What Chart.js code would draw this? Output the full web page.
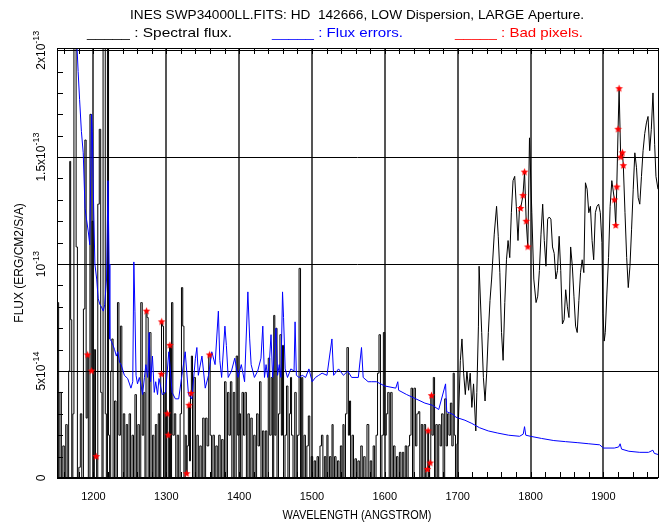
<!DOCTYPE html>
<html>
<head>
<meta charset="utf-8">
<script src="https://cdn.jsdelivr.net/npm/chart.js@4.4.1/dist/chart.umd.min.js"></script>
<style>
  html, body { margin: 0; padding: 0; background: #fff; }
</style>
</head>
<body>
<canvas id="spec" width="663" height="524"></canvas>
<script>
// Flux values are in units of 1e-14 erg/cm2/s/A
// (negative values are noise dips that fall below the plot floor)
const fluxWave = [
  1150, 1151.5, 1153, 1155, 1157, 1159, 1161, 1163, 1165, 1167, 1168, 1169.5, 1171, 1172.5, 1174, 1175.5, 1177, 1179, 1181, 1183,
  1185, 1187.5, 1189, 1191, 1192, 1194, 1196.5, 1197.4, 1199, 1200.5, 1202, 1203.8, 1205, 1207, 1209, 1211, 1212.5, 1214, 1215.5, 1217,
  1218.5, 1220, 1221.5, 1223, 1224.5, 1226, 1228, 1230, 1232, 1234, 1236, 1238, 1240, 1242, 1244, 1246, 1248, 1250, 1252, 1254,
  1256, 1258, 1260, 1262, 1264, 1266, 1268, 1270, 1271.5, 1272.9, 1274.3, 1276, 1278, 1280, 1282, 1284, 1286, 1288, 1290, 1291.7,
  1293.2, 1293.7, 1295.5, 1297, 1299, 1300.2, 1301.4, 1302.7, 1304, 1305, 1306.5, 1308, 1310, 1312, 1314, 1316, 1318, 1320, 1321.7, 1323.5,
  1325, 1327, 1328, 1329.5, 1331.2, 1332.5, 1333.9, 1335, 1337, 1339, 1341, 1343, 1345, 1347, 1349, 1351, 1353, 1355, 1357, 1359.5,
  1361, 1363, 1365, 1367, 1369, 1371, 1373, 1375, 1377, 1379, 1381, 1383, 1385, 1387, 1389, 1391, 1393, 1395, 1397, 1399,
  1401, 1403, 1405, 1407, 1409, 1411, 1413, 1415, 1417, 1419, 1421, 1423, 1425, 1427, 1429, 1431, 1433, 1435, 1437, 1439,
  1441, 1443, 1445, 1447, 1448, 1450, 1451, 1453, 1455, 1457, 1459, 1460, 1462, 1464, 1466, 1468, 1470, 1471, 1473, 1475,
  1477.7, 1479, 1481, 1483.6, 1485, 1486.7, 1488, 1490, 1492, 1494, 1496, 1498, 1500, 1502, 1504, 1506, 1508, 1510, 1512, 1514,
  1516, 1518, 1520, 1521, 1523, 1525, 1527, 1528, 1530, 1532, 1534, 1536, 1538, 1540, 1542, 1543, 1545, 1547, 1549, 1551,
  1552, 1554, 1556, 1558, 1560, 1562, 1564, 1566, 1568, 1570, 1572, 1574, 1577, 1579, 1581, 1583, 1585, 1587, 1589, 1591,
  1593, 1595, 1597, 1599, 1601, 1603, 1605, 1607, 1609, 1611, 1613, 1615, 1617, 1619, 1621, 1623, 1625, 1627, 1629, 1631,
  1633, 1635, 1637, 1639, 1641, 1643, 1645, 1647, 1649, 1651, 1653, 1655, 1657, 1658.5, 1659.4, 1660.8, 1662.2, 1664, 1665.5, 1667.6,
  1669, 1671, 1673, 1675, 1677, 1679, 1681, 1683.4, 1685, 1687, 1689, 1691, 1693, 1694.7, 1696, 1698, 1700,
  1703.7, 1705.9, 1708.2, 1710.5, 1712.7, 1715, 1717.2, 1719.5, 1721.8, 1724.9, 1726.3, 1728.5, 1729.4, 1733, 1735.3, 1737.6, 1739.8, 1742.1, 1744.4, 1746.6,
  1750.2, 1753.4, 1755.7, 1757.9, 1760.2, 1762.4, 1764.7, 1767, 1769.2, 1771.5, 1773.7, 1776, 1778.3, 1780.5, 1782.8, 1785, 1786.4, 1789.6, 1791.8, 1794.1,
  1796.3, 1798.6, 1801.8, 1804.5, 1807.6, 1809.9, 1812.2, 1814.4, 1816.7, 1818.9, 1821.2, 1823.5, 1825.7, 1828, 1830.2, 1832.5, 1834.8, 1837, 1839.3, 1841.5,
  1843.8, 1846.1, 1848.3, 1850.6, 1852.8, 1855.1, 1857.4, 1859.6, 1861.9, 1864.1, 1866.4, 1868.7, 1870.9, 1873.2, 1875.4, 1877.7, 1880, 1882.2, 1884.5, 1886.7,
  1889, 1891.3, 1893.5, 1895.8, 1898, 1899.4, 1901.2, 1902.6, 1904.8, 1907.1, 1909.3, 1911.6, 1915.2, 1917, 1918.4, 1920.2, 1921.6, 1923.8, 1926.1, 1927.4,
  1929.7, 1932, 1934.2, 1936.5, 1938.7, 1941, 1943.2, 1945.5, 1947.8, 1950, 1952.3, 1954.5, 1956.8, 1959.1, 1961.3, 1963.6, 1965.8, 1968.1, 1970.4, 1972.2, 1975
];
const fluxVal = [
  -1, 8.2, -1, 4, -1, 1.5, -1, 2.5, -1, 5, 14.8, 7.4, -1, 3, 22, 22, 10.8, -1, 0.5, 3,
  -1, 7.9, 15.8, 2.8, 5.75, -1, 17, 5.0, 12, -1, 6, 1.0, -1, 12.8, 16.3, 4, -1, 22, 22, 3,
  -1, 22, 2, -1, 5, 6.5, -1, 3.6, -1, 8.2, 2, 7.1, -1, 3, -1, 2.5, -1, 3, -1, 2,
  -1, 3.9, -1, 2.5, -1, 8.2, 2, 4, -1, 7.8, 7.5, -1, 6.8, -1, 2, -1, 2.5, -1, 3, -1,
  4.85, 7.3, 7.1, -1, 4, -1, 3.0, 2.0, -1, 6.2, -1, 8.2, 2, 3, -1, 2, -1, 3, 8.9, 7.1,
  -1, 2, 0.2, 1.5, 3.4, 0.8, 3.95, 5.7, -1, 4.7, -1, 2, -1, 1.5, -1, 2.8, -1, 2.8, 1.5, 5.75,
  2, -1, 2, -1, 1.5, -1, 2, -1, 1.8, -1, 4.5, -1, 4, 2, 4.5, -1, 4, -1, 5.7, 2,
  3, -1, 4, 2, 4, -1, 3, -1, 2.8, -1, 2, -1, 3, 1.5, 4.5, -1, 2.2, -1, 2.2, -1,
  5.6, 2, 4.7, -1, 7.6, 2, 7, -1, 3, 6.7, 2, 6.2, -1, 2, 4.3, -1, 3, 4.7, 2, -1,
  4.0, -1, 2, 9.8, -1, 4.7, -1, 2, -1, 1.5, 2.9, -1, 1, -1, 0.8, -1, 1, -1, 1.5, 2,
  -1, 1, -1, 2, -1, 1, -1, 2.5, -1, 1, -1, 0.8, -1, 1.5, -1, 2.5, -1, 3, 6.1, 2,
  3.6, -1, 2, -1, 0.9, -1, 0.8, -1, 1.5, -1, 1, -1, 2.5, -1, 0.8, -1, 1.5, -1, 2, 4.9,
  6.7, -1, 2, 6.8, 2, 3, 4, -1, 4, -1, 1.5, -1, 1, -1, 1.2, -1, 1.2, -1, 1.5, -1,
  1.5, 2, 4.2, -1, 4.2, 1.5, 3, 3.1, -1, 2.5, -1, 2.5, -1, 0.4, 2.2, -1, 0.7, 3.85, 2, 4.7,
  -1, 2.5, -1, 2.5, 1.5, 3, -1, 3.7, 1.5, 3, 2, 3.5, 1.5, 4.9, 2, -1, 1.6,
  5.5, 6.5, 4.9, 3.9, 5.0, 4.1, 4.9, 3.3, 4.4, 2.2, 4.0, 7.1, 9.9, 6.8, 4.7, 3.6, 4.9, 6.8, 8.3, 9.3,
  11.4, 12.7, 11.3, 9.6, 6.8, 5.5, 8.2, 10.2, 11.1, 10.3, 12.4, 13.9, 14.1, 12.7, 11.1, 12.7, 12.6, 13.2, 14.3, 12.0,
  10.8, 15.9, 12.4, 9.3, 8.2, 8.5, 9.7, 11.4, 12.8, 11.1, 9.9, 12.1, 12.2, 12.1, 10.8, 10.5, 9.3, 9.7, 11.3, 9.7,
  7.2, 7.4, 8.8, 8.0, 7.5, 10.8, 9.9, 8.5, 7.1, 6.8, 8.3, 9.6, 10.2, 9.6, 13.8, 13.5, 12.4, 12.7, 11.1, 10.2,
  12.4, 12.7, 12.8, 12.4, 11.0, 7.7, 6.4, 6.8, 8.6, 10.3, 12.7, 13.9, 13.0, 11.8, 13.6, 16.3, 18.2, 15.0, 15.2, 14.6,
  12.4, 10.3, 8.9, 9.9, 11.6, 13.5, 15.2, 14.5, 13.1, 12.8, 14.1, 15.3, 16.1, 16.6, 16.9, 15.3, 16.3, 18.0, 15.6, 14.1, 13.5
];
// the noisy part below this wavelength is drawn as a histogram
const noisyEnd = 1700;

const errWave = [
  1175, 1177, 1179, 1181, 1183.5, 1186, 1188.5, 1190.5, 1193, 1195, 1197.5, 1198.5, 1199.5, 1202, 1204.5, 1206.5, 1209, 1211, 1213.5, 1215.5,
  1218, 1220, 1221.5, 1222.5, 1224.5, 1227, 1229, 1231.5, 1233.5, 1236, 1238, 1242.5, 1247, 1251.5, 1254, 1255.5, 1257, 1258.5, 1260.5, 1263,
  1265, 1267.5, 1270, 1272, 1274.5, 1276.5, 1278.5, 1281, 1283.5, 1285.5, 1288, 1290, 1294.5, 1299, 1303.5, 1308, 1312.5, 1317, 1321.5, 1326,
  1330.5, 1335, 1340, 1342, 1344, 1349, 1353.5, 1358, 1362.5, 1367, 1371.5, 1373.5, 1376, 1380.5, 1382.5, 1385, 1389.5, 1394, 1398.5, 1403,
  1407.5, 1412, 1414.5, 1416.5, 1421, 1425.5, 1430, 1432.5, 1434.8, 1437, 1439.3, 1441.5, 1443.8, 1446, 1450.6, 1452.8, 1455.1, 1457.4, 1459.6, 1461,
  1463.2, 1466.4, 1471, 1475.4, 1476.8, 1478.6, 1482.2, 1486.7, 1491.3, 1495.8, 1500.3, 1504.8, 1509.3, 1513.9, 1520.6, 1527.4, 1529.7, 1536.5, 1543.2, 1549.1,
  1554.5, 1563.6, 1568, 1570.3, 1577.1, 1582, 1588.5, 1600, 1615, 1617.8, 1619, 1630, 1642.7, 1655, 1665.3, 1674, 1683.4, 1685, 1695, 1697,
  1701, 1710, 1719.5, 1730, 1742, 1755, 1770, 1785, 1790, 1791.8, 1793.5, 1800, 1815, 1832, 1848, 1865, 1880, 1895, 1900, 1915,
  1921, 1923, 1925, 1935, 1950, 1962, 1968, 1970, 1975
];
const errVal = [
  24, 20.5, 19, 17.7, 16.2, 15.2, 12.6, 12.1, 11.5, 10.9, 17, 16.2, 14, 10, 9.3, 8.4, 8.1, 8.0, 7.8, 8.1,
  9.3, 13.9, 10, 6.5, 6.4, 6.2, 6.0, 5.7, 5.9, 5.4, 5.3, 4.8, 4.65, 4.2, 4.5, 10.1, 7.8, 4.8, 4.4, 4.7,
  4.4, 3.9, 4.7, 5.3, 4.7, 6.8, 4.5, 5.7, 4.0, 4.5, 3.9, 4.65, 3.9, 4.0, 5.9, 4.0, 3.7, 3.7, 4.8, 5.9,
  3.9, 3.7, 5.6, 6.1, 4.8, 5.7, 4.2, 4.8, 5.9, 5.3, 7.8, 5.5, 4.7, 7.1, 6.2, 4.7, 5.0, 5.6, 4.7, 5.3,
  4.5, 8.7, 6.5, 5.3, 4.7, 5.0, 5.6, 7.1, 4.7, 5.3, 4.7, 5.4, 6.7, 4.7, 7.0, 4.8, 5.3, 4.7, 8.7, 7.5,
  5.1, 4.7, 5.1, 5.0, 7.3, 4.8, 4.7, 4.8, 4.7, 5.1, 4.5, 4.7, 4.8, 4.9, 4.8, 6.5, 4.8, 5.1, 4.8, 5.0,
  4.7, 4.7, 6.1, 4.7, 4.5, 4.5, 4.5, 4.3, 4.2, 4.5, 4.1, 3.9, 3.7, 3.5, 3.4, 3.2, 4.4, 3.1, 2.95, 2.85,
  2.8, 2.7, 2.55, 2.35, 2.2, 2.1, 2.0, 1.95, 2.05, 2.4, 2.0, 1.95, 1.85, 1.75, 1.7, 1.65, 1.6, 1.55, 1.4, 1.4,
  1.45, 1.6, 1.35, 1.25, 1.2, 1.2, 1.3, 1.15, 1.1
];

const badWave = [
  1192, 1197.4, 1203.8, 1272.9, 1293.2, 1293.7, 1301.4, 1302.7, 1305, 1328, 1331.2, 1333.9, 1359.5,
  1658.5, 1659.4, 1662.2, 1664, 1786.4, 1789.6, 1791.8, 1794.1, 1796.3,
  1915.2, 1917, 1918.4, 1920.2, 1921.6, 1923.8, 1926.1, 1927.4
];
const badVal = [
  5.75, 5.0, 1.0, 7.8, 4.85, 7.3, 3.0, 2.0, 6.2, 0.2, 3.4, 3.95, 5.75,
  0.4, 2.2, 0.7, 3.85, 12.6, 13.2, 14.3, 12.0, 10.8,
  13.0, 11.8, 13.6, 16.3, 18.2, 15.0, 15.2, 14.6
];

// axis ranges and tick labels (y in units of 1e-14)
const xMin = 1150, xMax = 1975, xStep = 100, xMinorStep = 20;
const yMin = 0, yMax = 20.1, yStep = 5, yMinorStep = 1;
const yTickVals = [0, 5, 10, 15, 20];
const yTickBase = ['0', '5x10', '10', '1.5x10', '2x10'];
const yTickExp = ['', '-14', '-13', '-13', '-13'];

const titleText = 'INES SWP34000LL.FITS: HD  142666, LOW Dispersion, LARGE Aperture.';
const legendItems = [
  { text: '_____ : Spectral flux.', color: '#000000', left: 87, width: 145 },
  { text: '_____ : Flux errors.', color: '#0000ff', left: 272, width: 131 },
  { text: '_____ : Bad pixels.', color: '#ff0000', left: 455, width: 128 }
];

const FONT = '"Liberation Sans", Arial, sans-serif';

function makeStar(r, color) {
  const c = document.createElement('canvas');
  c.width = c.height = 2 * r + 1;
  const g = c.getContext('2d');
  g.fillStyle = color;
  g.beginPath();
  for (let i = 0; i < 10; i++) {
    const a = -Math.PI / 2 + i * Math.PI / 5;
    const rr = i % 2 ? r * 0.45 : r;
    g.lineTo(r + 0.5 + rr * Math.cos(a), r + 0.5 + rr * Math.sin(a));
  }
  g.closePath();
  g.fill();
  return c;
}

// draw text squeezed/stretched to a given width
function fitText(ctx, text, x, y, size, width, align) {
  ctx.font = size + 'px ' + FONT;
  const w = ctx.measureText(text).width;
  ctx.save();
  ctx.translate(x, y);
  ctx.scale(width / w, 1);
  ctx.textAlign = align;
  ctx.textBaseline = 'middle';
  ctx.fillText(text, 0, 0);
  ctx.restore();
}

// frame, inward minor ticks, title, legend and y labels
const decor = {
  id: 'decor',
  afterDraw(chart) {
    const { ctx, chartArea: a, scales: { x, y } } = chart;
    ctx.save();

    ctx.strokeStyle = '#000';
    ctx.lineWidth = 1;
    ctx.strokeRect(a.left + 0.5, a.top + 0.5, a.right - a.left, a.bottom - a.top - 1);

    ctx.beginPath();
    for (let v = Math.ceil(xMin / xMinorStep) * xMinorStep; v <= xMax; v += xMinorStep) {
      const px = Math.round(x.getPixelForValue(v)) + 0.5;
      ctx.moveTo(px, a.bottom); ctx.lineTo(px, a.bottom - 6);
      ctx.moveTo(px, a.top); ctx.lineTo(px, a.top + 6);
    }
    for (let v = yMin + yMinorStep; v < yMax; v += yMinorStep) {
      const py = Math.round(y.getPixelForValue(v)) + 0.5;
      ctx.moveTo(a.left, py); ctx.lineTo(a.left + 6, py);
    }
    ctx.stroke();

    ctx.fillStyle = '#000';
    fitText(ctx, titleText, 357, 15, 13, 454, 'center');

    legendItems.forEach(it => {
      ctx.fillStyle = it.color;
      fitText(ctx, it.text, it.left, 33, 13, it.width, 'left');
    });

    ctx.fillStyle = '#000';
    fitText(ctx, 'WAVELENGTH (ANGSTROM)', 357, 516, 12, 149, 'center');

    // y axis title, rotated
    ctx.save();
    ctx.translate(20, (a.top + a.bottom) / 2);
    ctx.rotate(-Math.PI / 2);
    ctx.font = '12px ' + FONT;
    ctx.textAlign = 'center';
    ctx.textBaseline = 'middle';
    ctx.fillText('FLUX (ERG/CM2/S/A)', 0, 0);
    ctx.restore();

    // y tick labels, rotated, with superscript exponents
    yTickVals.forEach((v, i) => {
      const py = y.getPixelForValue(v);
      ctx.save();
      ctx.translate(42, py);
      ctx.rotate(-Math.PI / 2);
      ctx.textBaseline = 'middle';
      ctx.textAlign = 'left';
      ctx.font = '12px ' + FONT;
      const wb = ctx.measureText(yTickBase[i]).width;
      ctx.font = '9px ' + FONT;
      const we = yTickExp[i] ? ctx.measureText(yTickExp[i]).width : 0;
      const start = -(wb + we) / 2;
      ctx.font = '12px ' + FONT;
      ctx.fillText(yTickBase[i], start, 0);
      if (yTickExp[i]) {
        ctx.font = '9px ' + FONT;
        ctx.fillText(yTickExp[i], start + wb, -5);
      }
      ctx.restore();
    });

    ctx.restore();
  }
};

const fluxPts = fluxWave.map((w, i) => ({ x: w, y: fluxVal[i] }));
const noisyPts = fluxPts.filter(p => p.x <= noisyEnd);
const smoothPts = fluxPts.filter(p => p.x >= noisyEnd);
const errPts = errWave.map((w, i) => ({ x: w, y: errVal[i] }));
const badPts = badWave.map((w, i) => ({ x: w, y: badVal[i] }));

new Chart(document.getElementById('spec'), {
  type: 'line',
  data: {
    datasets: [
      {
        label: 'Bad pixels',
        data: badPts,
        showLine: false,
        pointStyle: makeStar(4, '#ff0000'),
        pointRadius: 4,
        order: 0
      },
      {
        label: 'Flux errors',
        data: errPts,
        borderColor: '#0000ff',
        borderWidth: 1,
        pointRadius: 0,
        order: 1
      },
      {
        label: 'Spectral flux',
        data: noisyPts,
        borderColor: '#000000',
        borderWidth: 1,
        pointRadius: 0,
        stepped: 'middle',
        order: 2
      },
      {
        label: 'Spectral flux (red end)',
        data: smoothPts,
        borderColor: '#000000',
        borderWidth: 1,
        pointRadius: 0,
        order: 2
      }
    ]
  },
  options: {
    responsive: false,
    animation: false,
    devicePixelRatio: 1,
    layout: { padding: { top: 48, left: 0, right: 0, bottom: 0 } },
    plugins: {
      legend: { display: false },
      title: { display: false },
      tooltip: { enabled: false }
    },
    elements: { line: { tension: 0 } },
    scales: {
      x: {
        type: 'linear',
        min: xMin,
        max: xMax,
        border: { display: false },
        grid: { color: '#555555', lineWidth: 2, drawTicks: false },
        ticks: {
          stepSize: xStep,
          includeBounds: false,
          padding: 12,
          color: '#000',
          font: { family: FONT, size: 11 },
          maxRotation: 0,
          callback: v => String(v)
        },
        afterFit: s => { s.height = 46; }
      },
      y: {
        type: 'linear',
        min: yMin,
        max: yMax,
        border: { display: false },
        grid: { color: '#000', lineWidth: 1, drawTicks: false },
        ticks: { stepSize: yStep, includeBounds: false, display: false },
        afterFit: s => { s.height = undefined; s.width = 57; }
      }
    }
  },
  plugins: [decor]
});
</script>
</body>
</html>
